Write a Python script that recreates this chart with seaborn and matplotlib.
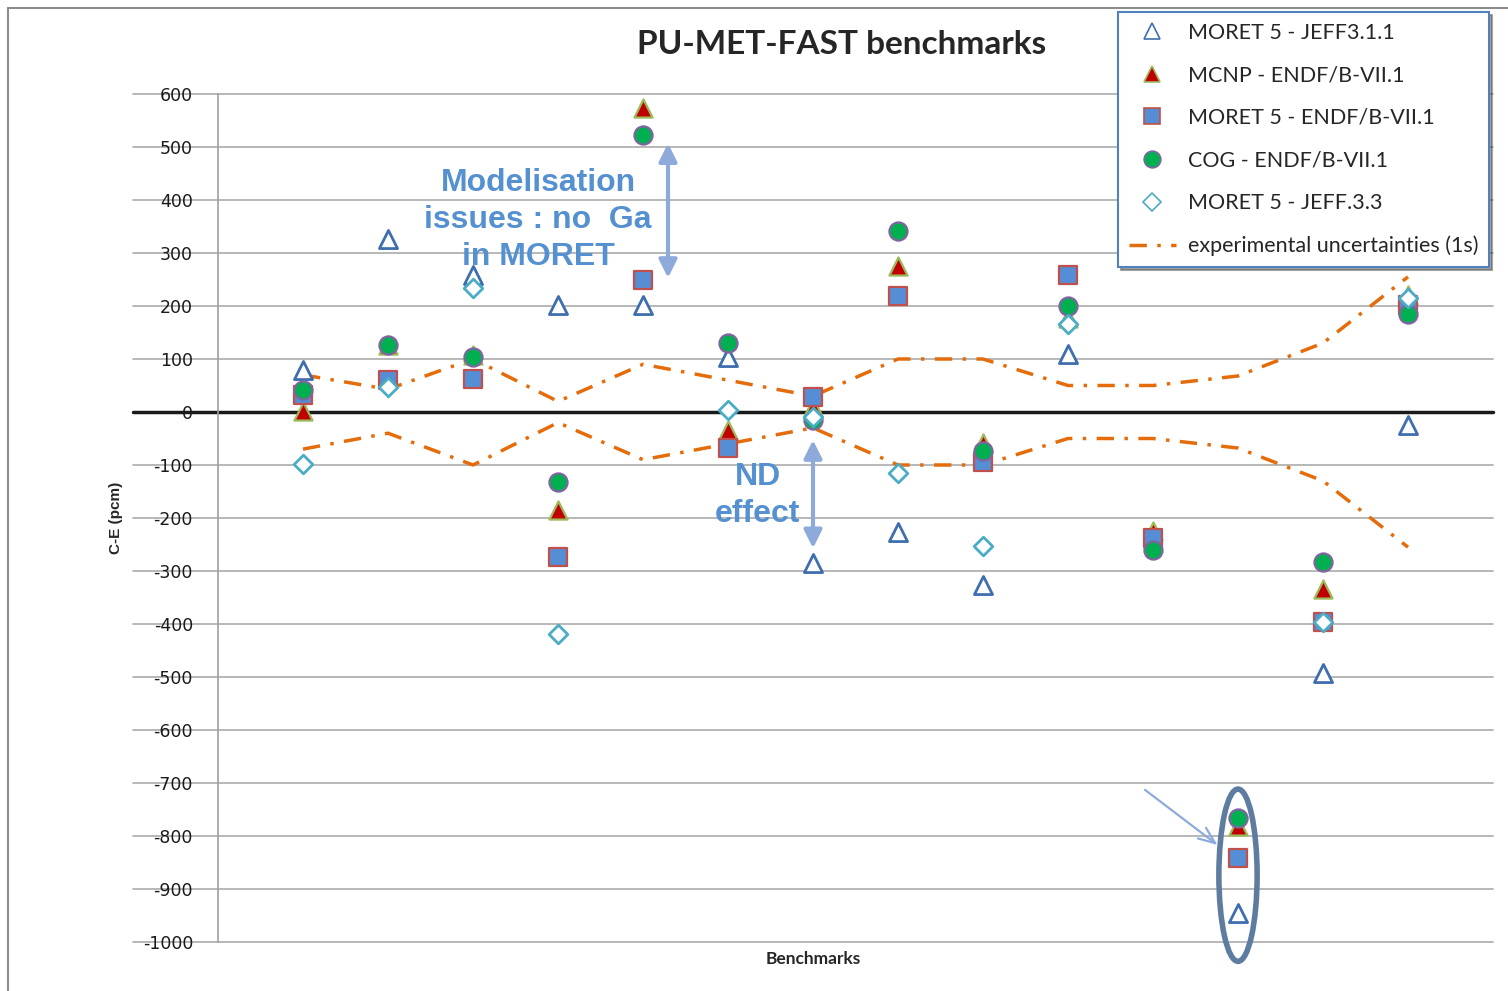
import numpy as np
import pandas as pd
import matplotlib
matplotlib.use("Agg")
import matplotlib.pyplot as plt
import seaborn as sns
from matplotlib.patches import Ellipse, Rectangle
from matplotlib.lines import Line2D

sns.set_theme(style="white")
plt.rcParams["font.family"] = ["DejaVu Sans"]

# data (C-E in pcm), 14 benchmarks
bench = np.arange(1, 15)
moret_jeff311 = [80, 326, 258, 202, 202, 104, -285, -226, -326, 109, np.nan, -945, -492, -25]
mcnp_endf = [2, 126, 107, -185, 574, -34, 9, 275, -58, 177, -225, -781, -334, 221]
moret_endf = [32, 60, 62, -274, 249, -68, 28, 219, -94, 258, -238, -842, -396, 202]
cog_endf = [41, 126, 104, -132, 523, 130, -15, 341, -73, 200, -260, -766, -283, 185]
moret_jeff33 = [-98, 47, 234, -419, np.nan, 4, -9, -115, -253, 166, np.nan, np.nan, -396, 215]
unc_upper = [70, 43, 100, 20, 90, 60, 30, 100, 100, 50, 50, 68, 130, 255]
unc_lower = [-70, -40, -100, -20, -90, -60, -30, -100, -100, -50, -50, -68, -130, -255]

y_ticks = list(range(-1000, 601, 100))

series = [
    ("MORET 5 - JEFF3.1.1", moret_jeff311, "^", "white", "#3F6EAF"),
    ("MCNP - ENDF/B-VII.1", mcnp_endf, "^", "#C00000", "#9BBB59"),
    ("MORET 5 - ENDF/B-VII.1", moret_endf, "s", "#558ED5", "#C0504D"),
    ("COG - ENDF/B-VII.1", cog_endf, "o", "#00B050", "#8064A2"),
    ("MORET 5 - JEFF.3.3", moret_jeff33, "D", "white", "#4BACC6"),
]

fig = plt.figure(figsize=(15.08, 9.91), dpi=100)
ax = fig.add_axes([218 / 1508, 1 - 942 / 991, 1275 / 1508, 848 / 991])

# outer chart frame
fig.patches.append(Rectangle((8 / 1508, -0.1), 1.2, 1.1 - 8 / 991,
                             transform=fig.transFigure, fill=False,
                             edgecolor="#8C8C8C", lw=1.5, zorder=0))

# gridlines running under the tick labels, like the Excel chart
trans = ax.get_yaxis_transform()
for t in y_ticks:
    if t == 0:
        ax.plot([-85 / 1275, 1], [t, t], transform=trans, color="#1A1A1A",
                lw=2.5, clip_on=False, zorder=1)
    else:
        ax.plot([-85 / 1275, 1], [t, t], transform=trans, color="#ABABAB",
                lw=1.2, clip_on=False, zorder=0.5)

sizes = {"^": 170, "s": 150, "o": 170, "D": 90}
for label, vals, mk, fc, ec in series:
    sns.scatterplot(x=bench, y=vals, marker=mk, s=sizes[mk], color=fc,
                    edgecolor=ec, linewidth=2.0 if fc == "white" else 1.6,
                    ax=ax, zorder=3, legend=False)

unc_df = pd.DataFrame({"bench": bench, "up": unc_upper, "low": unc_lower})
for col in ["up", "low"]:
    sns.lineplot(data=unc_df, x="bench", y=col, color="#E46C0A", lw=2.5,
                 ax=ax, zorder=2, legend=False, dashes=False)
for ln in ax.get_lines()[-2:]:
    ln.set_dashes((5, 3, 1, 3))

# annotations
blue_txt = "#5591D0"
ax.text(3.765, 362, "Modelisation\nissues : no  Ga\nin MORET", ha="center",
        va="center", fontsize=23, fontweight="bold", color=blue_txt,
        family="Liberation Sans", linespacing=1.3, zorder=4)
ax.text(6.35, -157, "ND\neffect", ha="center", va="center", fontsize=23,
        fontweight="bold", color=blue_txt, family="Liberation Sans",
        linespacing=1.3, zorder=4)
arr_c = "#8EAADB"
ax.annotate("", xy=(5.294, 253), xytext=(5.294, 507),
            arrowprops=dict(arrowstyle="<|-|>,head_length=0.9,head_width=0.45",
                            color=arr_c, lw=3, shrinkA=0, shrinkB=0), zorder=4)
ax.annotate("", xy=(7.0, -257), xytext=(7.0, -53),
            arrowprops=dict(arrowstyle="<|-|>,head_length=0.9,head_width=0.45",
                            color=arr_c, lw=3, shrinkA=0, shrinkB=0), zorder=4)
ax.annotate("", xy=(11.76, -817), xytext=(10.906, -713),
            arrowprops=dict(arrowstyle="->,head_length=1.0,head_width=0.4",
                            color=arr_c, lw=1.6, shrinkA=0, shrinkB=0), zorder=4)
ax.add_patch(Ellipse((12, -874), 0.45, 325, fill=False, edgecolor="#5E7CA0",
                     lw=4, zorder=4, clip_on=False))

ax.set_xlim(0, 15)
ax.set_ylim(-1000, 600)
ax.set_yticks(y_ticks)
ax.set_yticklabels([str(t) for t in y_ticks], fontsize=12.5, color="#1A1A1A")
ax.set_xticks([])
ax.tick_params(axis="y", length=0, pad=18)
for sp in ["top", "right", "bottom"]:
    ax.spines[sp].set_visible(False)
ax.spines["left"].set_color("#A0A0A0")
ax.spines["left"].set_linewidth(1.2)
ax.set_ylabel("C-E (pcm)", fontsize=11, fontweight="bold", family="Liberation Sans",
              labelpad=14)
ax.set_xlabel("Benchmarks", fontsize=12.5, fontweight="bold", family="Lato")
ax.xaxis.set_label_coords((813 - 218) / 1275, -9 / 848)

fig.text(842 / 1508, 1 - 45 / 991, "PU-MET-FAST benchmarks", ha="center",
         va="center", fontsize=24, fontweight="bold", family="Lato")

# legend
handles = []
for label, vals, mk, fc, ec in series:
    handles.append(Line2D([], [], ls="none", marker=mk, markersize=12 if mk != "D" else 9,
                          markerfacecolor=fc, markeredgecolor=ec,
                          markeredgewidth=1.2, label=label))
handles.append(Line2D([], [], color="#E46C0A", lw=2.5, dashes=(5, 3, 1, 3),
                      label="experimental uncertainties (1s)"))
leg = fig.legend(handles=handles, loc="upper left",
                 bbox_to_anchor=(1118 / 1508, 1 - 12 / 991), frameon=True,
                 fancybox=False, shadow=True, handlelength=2.2,
                 labelspacing=1.05, borderpad=0.5, handletextpad=0.55,
                 borderaxespad=0, prop={"family": "Lato", "size": 15.5})
leg.get_frame().set_edgecolor("#4F81BD")
leg.get_frame().set_linewidth(1.5)

fig.savefig("out.png", dpi=100)
